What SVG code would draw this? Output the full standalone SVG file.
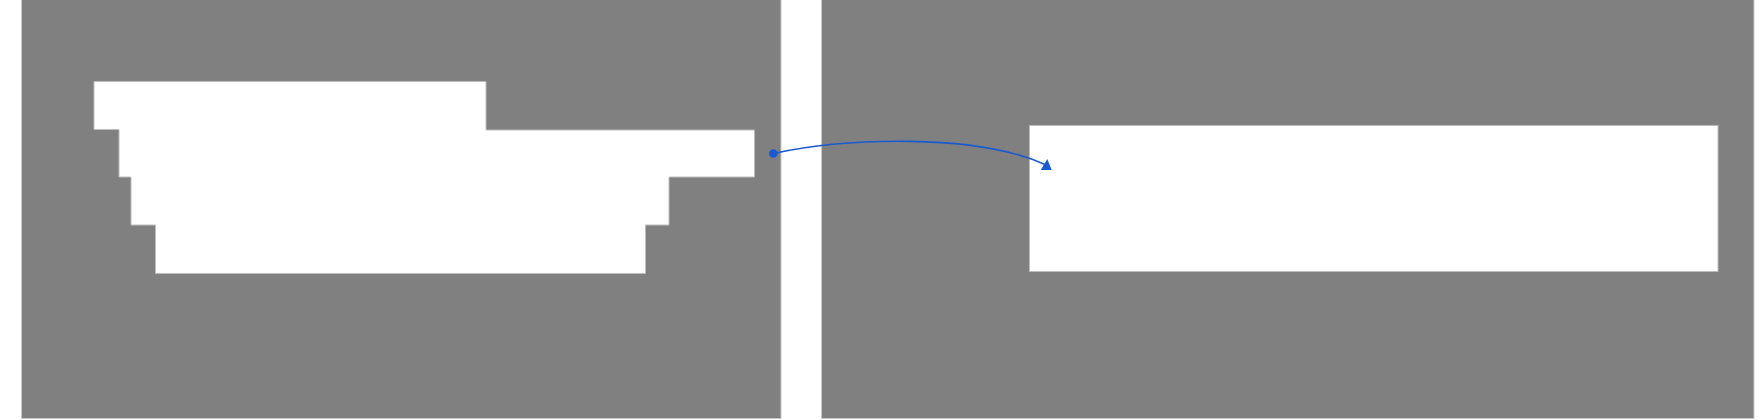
<svg xmlns="http://www.w3.org/2000/svg" width="1760" height="420" viewBox="0 0 1760 420">
  <style>
    .panel { fill: #808080; stroke: #c8c8c8; stroke-width: 1; }
    .box { fill: #ffffff; stroke: #bdbdbd; stroke-width: 1; }
    .conn { fill: none; stroke: #1a5ad0; stroke-width: 1.6; }
    .head { fill: #1a5ad0; }
  </style>
  <rect width="1760" height="420" fill="#ffffff"/>
  <g id="panel-left">
    <rect class="panel" x="21.5" y="-1" width="759.5" height="419.5"/>
  </g>
  <g id="panel-right">
    <rect class="panel" x="821.5" y="-1" width="932.5" height="419.5"/>
  </g>
  <g id="stepped-block">
    <path class="box" d="M94,81.5 H486 V130 H754.5 V177 H669 V225 H645.5 V273.5 H155.5 V225 H131 V177 H119 V129.5 H94 Z"/>
  </g>
  <g id="target-box">
    <rect class="box" x="1029.5" y="125.5" width="688.5" height="146"/>
  </g>
  <g id="connectors">
    <circle class="head" cx="773.3" cy="153.5" r="4.3"/>
    <path class="conn" d="M773.3,153.5 C845,138 975,133 1045,164.5"/>
    <polygon class="head" points="1047.3,159 1040.7,170 1051.7,170"/>
  </g>
</svg>
